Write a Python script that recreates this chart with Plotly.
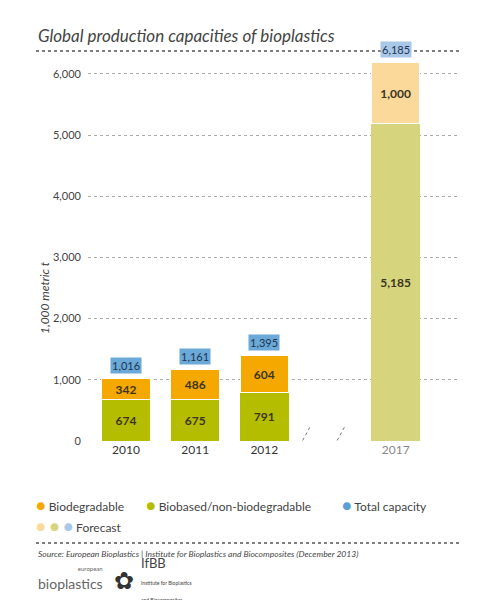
import plotly.graph_objects as go

years = ["2010", "2011", "2012", "2017"]
positions = [0, 1, 2, 3.9]
biobased = [674, 675, 791, 5185]
biodegradable = [342, 486, 604, 1000]
totals = [1016, 1161, 1395, 6185]
forecast = [False, False, False, True]

H = 385.0  # plot height px
W = 372.0


def py(p):
    return (433 - p) / H


def px_(p):
    return (p - 80) / W


def note(x, y, text, **kw):
    fig.add_annotation(xref="paper", yref="paper", x=px_(x), y=py(y), text=text, showarrow=False,
                       yanchor="middle", **kw)


olive = ["#d6d57e" if f else "#b5bd00" for f in forecast]
orange = ["#fbd99a" if f else "#f5a800" for f in forecast]
fmt = lambda v: f"<b>{v:,}</b>"

fig = go.Figure()
fig.add_trace(go.Bar(x=positions, y=biobased, width=0.7, marker=dict(color=olive, line=dict(width=0)),
                     text=[fmt(v) for v in biobased], textposition="inside", insidetextanchor="middle",
                     textfont=dict(color="#3d3520", size=12, family="Lato"), hoverinfo="skip"))
fig.add_trace(go.Bar(x=positions, y=biodegradable, width=0.7,
                     marker=dict(color=orange, line=dict(width=1, color="white")),
                     text=[fmt(v) for v in biodegradable], textposition="inside", insidetextanchor="middle",
                     textfont=dict(color="#3d3520", size=12, family="Lato"), hoverinfo="skip"))

# total pills
for x, t, f in zip(positions, totals, forecast):
    fig.add_annotation(x=x, y=t, yshift=13, text=f"{t:,}", showarrow=False,
                       bgcolor="#a9c8e8" if f else "#6aa9d8", borderpad=1,
                       font=dict(size=11, color="#1f3550", family="Lato"))

# axis break marks
for bx in [2.55, 3.05]:
    fig.add_shape(type="line", x0=bx - 0.12, x1=bx + 0.12, y0=-250, y1=250,
                  line=dict(color="#777", width=1, dash="dot"))

fig.update_layout(
    width=479, height=600, barmode="stack", showlegend=False,
    margin=dict(l=80, r=27, t=48, b=167),
    paper_bgcolor="white", plot_bgcolor="white",
    font=dict(family="Lato", color="#333"),
    xaxis=dict(range=[-0.55, 4.83], tickvals=positions,
               ticktext=years[:3] + ['<span style="color:#888">2017</span>'],
               showgrid=False, zeroline=False, showline=False, tickfont=dict(size=12)),
    yaxis=dict(range=[0, 6291], tickvals=[0, 1000, 2000, 3000, 4000, 5000, 6000],
               tickformat=",", gridcolor="#aaa", griddash="dot", gridwidth=1,
               zeroline=False, tickfont=dict(size=11, color="#444"), ticks="", ticklabelstandoff=6),
)

note(36, 290, "<i>1,000 metric t</i>", textangle=-90, xanchor="center", font=dict(size=12, color="#444"))
note(28, 27, "<i>Global production capacities of bioplastics</i>", xanchor="left",
     font=dict(size=17, color="#444"))
for ry in [43, 535]:
    fig.add_shape(type="line", xref="paper", yref="paper", x0=px_(28), x1=px_(452), y0=py(ry), y1=py(ry),
                  line=dict(color="#555", width=1.5, dash="dot"))

# legend
legend_row1 = [(26, "#f5a800", "Biodegradable"), (136, "#b5bd00", "Biobased/non-biodegradable"),
               (332, "#5aa0d5", "Total capacity")]
for lx, c, lbl in legend_row1:
    note(lx, 496, f'<span style="color:{c};font-size:16px">●</span> {lbl}', xanchor="left",
         font=dict(size=12, color="#444"))
note(26, 517, '<span style="font-size:16px"><span style="color:#fbd99a">●</span> '
              '<span style="color:#d6d57e">●</span> <span style="color:#a9c8e8">●</span></span> Forecast',
     xanchor="left", font=dict(size=12, color="#444"))

note(28, 546, "<i>Source: European Bioplastics | Institute for Bioplastics and Biocomposites (December 2013)</i>",
     xanchor="left", font=dict(size=8.5, color="#444"))
note(28, 570, '<span style="font-size:6px">european</span><br>bioplastics', xanchor="left",
     font=dict(size=14, color="#666"), align="right")
note(104, 571, "✿", xanchor="left", font=dict(size=24, color="#333"))
note(131, 571, 'IfBB<br><span style="font-size:5px">Institute for Bioplastics<br>and Biocomposites</span>',
     xanchor="left", font=dict(size=13, color="#444"), align="left")

fig.write_html("out.html")
